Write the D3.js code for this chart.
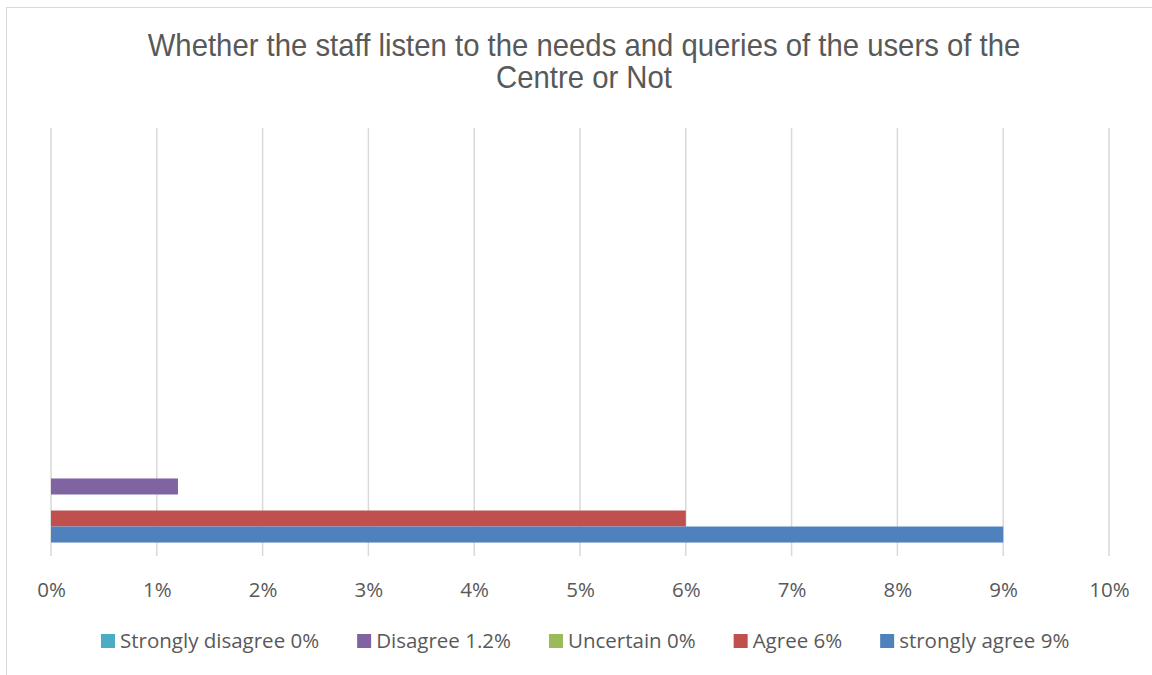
<!DOCTYPE html>
<html>
<head>
<meta charset="utf-8">
<script src="https://cdn.jsdelivr.net/npm/d3@7"></script>
<style>
  body { margin: 0; background: #fff; }
  svg { display: block; }
</style>
</head>
<body>
<div id="chart"></div>
<script>
// chart data
var titleLines = ["Whether the staff listen to the needs and queries of the users of the", "Centre or Not"]
var series = ["Strongly disagree", "Disagree", "Uncertain", "Agree", "strongly agree"]
var values = [0, 1.2, 0, 6, 9]
var legendLabels = ["Strongly disagree 0%", "Disagree 1.2%", "Uncertain 0%", "Agree 6%", "strongly agree 9%"]
var colors = ["#4BACC6", "#8064A2", "#9BBB59", "#C0504D", "#4F81BD"]
var xTicks = [0, 1, 2, 3, 4, 5, 6, 7, 8, 9, 10]
// the sheet has 4 category rows, only the first one holds values
var categories = [0, 1, 2, 3]

var width = 1152, height = 675
var plotLeft = 51, plotRight = 1109, plotTop = 128, plotBottom = 556
var labelFont = "'Open Sans', Lato, sans-serif"

var svg = d3.select("#chart").append("svg")
    .attr("width", width)
    .attr("height", height)

// chart border
svg.append("rect")
    .attr("x", 6.5).attr("y", 7.5)
    .attr("width", 1200).attr("height", 700)
    .style("fill", "none")
    .style("stroke", "#d9d9d9")

// title (narrow looking font, squeezed horizontally)
var title = svg.append("g")
var titleText = title.selectAll("text")
    .data(titleLines)
    .enter()
    .append("text")
    .attr("x", 0)
    .attr("y", function(d, i) { return 56 + i * 32 })
    .attr("text-anchor", "middle")
    .style("font-family", "'Liberation Sans', Arial, sans-serif")
    .style("font-size", "31px")
    .style("fill", "#595959")
    .text(function(d) { return d })
var squeeze = 873 / titleText.node().getComputedTextLength()
title.attr("transform", "translate(584,0) scale(" + squeeze + ",1)")

var x = d3.scaleLinear().domain([0, 10]).range([plotLeft, plotRight])

var y0 = d3.scaleBand().domain(categories).range([plotBottom, plotTop])
var y1 = d3.scaleBand().domain(series).range([0, y0.bandwidth()]).paddingOuter(0.84)

// gridlines
svg.append("g")
    .selectAll("line")
    .data(xTicks)
    .enter()
    .append("line")
    .attr("x1", function(d) { return x(d) })
    .attr("x2", function(d) { return x(d) })
    .attr("y1", plotTop)
    .attr("y2", plotBottom)
    .style("stroke", "#d9d9d9")
    .style("stroke-width", 1.5)

// bars
svg.append("g")
    .selectAll("rect")
    .data(series)
    .enter()
    .append("rect")
    .attr("x", x(0))
    .attr("y", function(d) { return y0(0) + y1(d) })
    .attr("width", function(d, i) { return x(values[i]) - x(0) })
    .attr("height", y1.bandwidth())
    .style("fill", function(d, i) { return colors[i] })

// x axis labels
var xAxis = svg.append("g")
    .attr("transform", "translate(0," + (plotBottom + 23) + ")")
    .call(d3.axisBottom(x).tickValues(xTicks).tickSize(0).tickFormat(function(d) { return d + "%" }))
xAxis.select(".domain").remove()
xAxis.selectAll("text")
    .style("font-family", labelFont)
    .style("font-size", "20.5px")
    .style("fill", "#595959")

// legend
var legend = svg.append("g").attr("transform", "translate(101,641)")
var lx = 0
legendLabels.forEach(function(label, i) {
    var item = legend.append("g").attr("transform", "translate(" + lx + ",0)")
    item.append("rect")
        .attr("x", 0).attr("y", -7)
        .attr("width", 14).attr("height", 14)
        .style("fill", colors[i])
    var t = item.append("text")
        .attr("x", 19)
        .attr("y", 7)
        .style("font-family", labelFont)
        .style("font-size", "20.5px")
        .style("fill", "#595959")
        .text(label)
    lx += 19 + t.node().getComputedTextLength() + 38
})
</script>
</body>
</html>
